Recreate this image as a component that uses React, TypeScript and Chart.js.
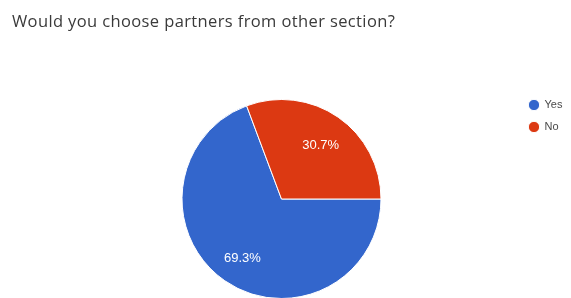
import React, { useEffect, useRef } from "react";
import { Chart, registerables } from "chart.js";

Chart.register(...registerables);

const titleText = "Would you choose partners from other section?";
const categories = ["Yes", "No"];
const values = [69.3, 30.7];
const sliceColors = ["#3366cc", "#dc3912"];

const leftTitlePlugin = {
  id: "leftTitle",
  afterDraw(chart: any) {
    const ctx = chart.ctx;
    ctx.save();
    ctx.font = "16.5px 'Open Sans'";
    const natural = ctx.measureText(titleText).width;
    const target = 383;
    const spacing = Math.max(0, (target - natural) / (titleText.length - 1));
    try {
      (ctx as any).letterSpacing = spacing.toFixed(2) + "px";
    } catch (e) {}
    ctx.fillStyle = "#3a3a3a";
    ctx.textBaseline = "alphabetic";
    ctx.textAlign = "left";
    ctx.fillText(titleText, 12, 26.5);
    ctx.restore();
  },
};

const sliceLabelPlugin = {
  id: "sliceLabels",
  afterDatasetsDraw(chart: any) {
    const ctx = chart.ctx;
    const meta = chart.getDatasetMeta(0);
    const data = chart.data.datasets[0].data as number[];
    const total = data.reduce((a, b) => a + b, 0);
    ctx.save();
    ctx.font = "13px 'Liberation Sans'";
    ctx.fillStyle = "#ffffff";
    ctx.textAlign = "center";
    ctx.textBaseline = "middle";
    meta.data.forEach((arc: any, i: number) => {
      const p = arc.getProps(["x", "y", "startAngle", "endAngle", "outerRadius"], true);
      const mid = (p.startAngle + p.endAngle) / 2;
      const r = p.outerRadius * 0.69;
      const px = p.x + Math.cos(mid) * r;
      const py = p.y + Math.sin(mid) * r + 3;
      ctx.fillText(((data[i] / total) * 100).toFixed(1) + "%", px, py);
    });
    ctx.restore();
  },
};

export default function App() {
  const ref = useRef<HTMLCanvasElement | null>(null);

  useEffect(() => {
    if (!ref.current) return;
    const chart = new Chart(ref.current, {
      type: "pie",
      data: {
        labels: categories,
        datasets: [
          {
            data: values,
            backgroundColor: sliceColors,
            borderColor: "#ffffff",
            borderWidth: 1,
            radius: 99.5,
          } as any,
        ],
      },
      options: {
        animation: false,
        responsive: false,
        rotation: 90,
        layout: {
          padding: { top: 88.5, bottom: 0, left: 45, right: 8 },
        },
        plugins: {
          title: { display: false },
          subtitle: {
            display: true,
            text: "",
            fullSize: false,
            position: "top",
            font: { size: 10, lineHeight: 1.15 },
            padding: 0,
          },
          tooltip: { enabled: false },
          legend: {
            position: "right",
            align: "start",
            maxWidth: 45,
            labels: {
              usePointStyle: true,
              pointStyle: "circle",
              boxWidth: 10,
              boxHeight: 8,
              padding: 11,
              color: "#4a4a4a",
              font: { family: "'Liberation Sans'", size: 11 },
            },
          },
        },
      } as any,
      plugins: [leftTitlePlugin, sliceLabelPlugin],
    });
    return () => chart.destroy();
  }, []);

  return (
    <div style={{ position: "absolute", left: 0, top: 0, width: 571, height: 298, background: "#fff" }}>
      <canvas ref={ref} width={571} height={298} style={{ display: "block" }} />
    </div>
  );
}
